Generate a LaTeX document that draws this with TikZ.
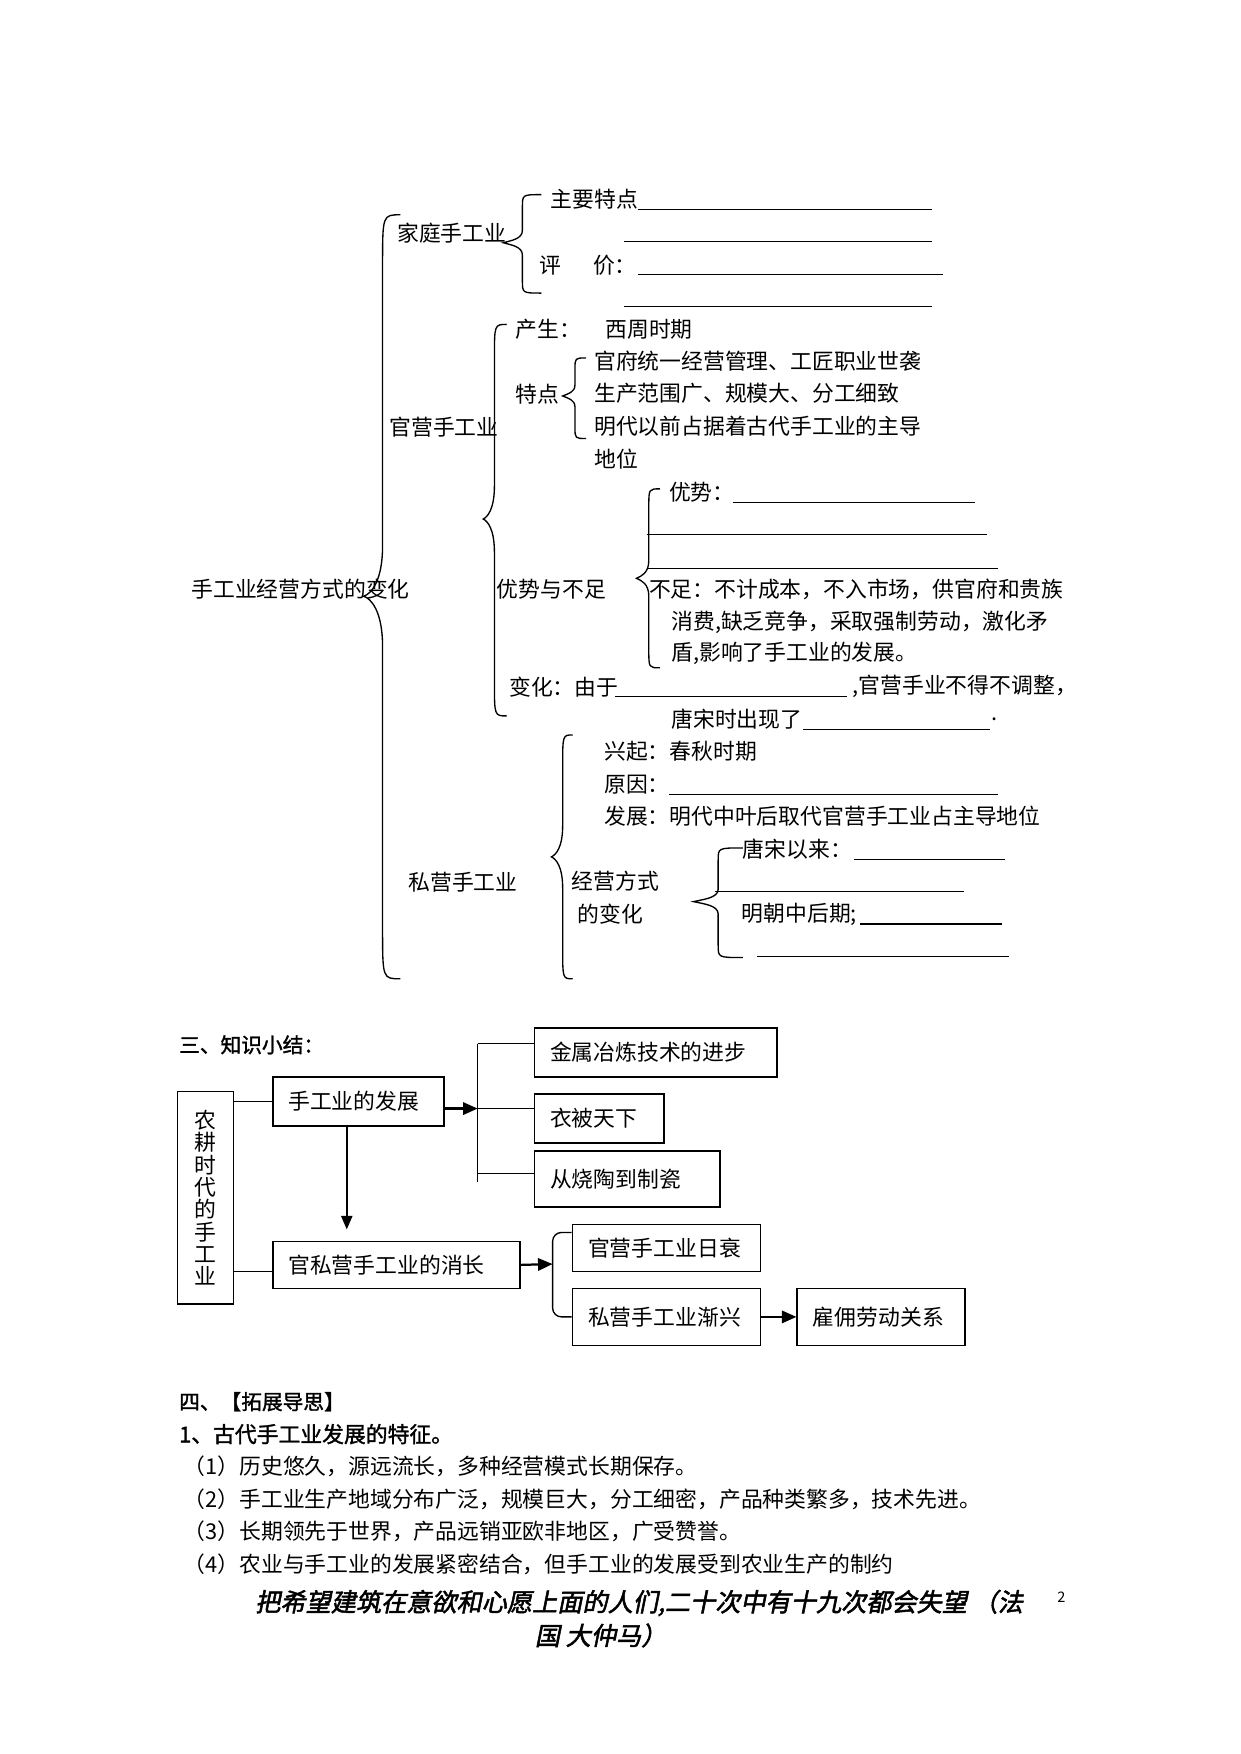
\documentclass[tikz,border=0pt]{standalone}
\usepackage{fontspec}
\setmainfont{Noto Sans CJK SC}
\newfontfamily\hbf{Noto Sans CJK SC}[FakeBold=1.5]
\newfontfamily\hbi{Noto Sans CJK SC}[FakeBold=2,FakeSlant=0.2]
\usetikzlibrary{arrows.meta}
\newcommand\fs{\fontsize{19.5pt}{20pt}\selectfont}
% #1 x of stem, #2 top y, #3 tip y, #4 bottom y, #5 tip x, #6 end x, #7 curl size
\newcommand\Brace[7]{%
  \draw[br] ({#6},{#2}) .. controls ({#1},{#2}) .. ({#1},{#2+#7}) -- ({#1},{#3-#7})
    .. controls ({#1},{#3-0.3*#7}) and ({#5+0.4*(#1-#5)},{#3-2}) .. ({#5},{#3})
    .. controls ({#5+0.4*(#1-#5)},{#3+2}) and ({#1},{#3+0.3*#7}) .. ({#1},{#3+#7})
    -- ({#1},{#4-#7}) .. controls ({#1},{#4}) .. ({#6},{#4});}
\tikzset{
  tx/.style={anchor=west, inner sep=0pt, font=\fs},
  br/.style={line width=1.2pt},
  blank/.style={line width=1pt},
  ln/.style={line width=1.2pt},
  arr/.style={line width=2pt, -{Triangle[length=13pt,width=11pt]}},
  box/.style={draw, line width=1.5pt, anchor=north west, inner xsep=14pt, inner ysep=0pt, align=left, font=\fs},
}
\begin{document}
\begin{tikzpicture}[x=1pt,y=-1pt]
\fill[white] (0,0) rectangle (1109,1568);
\useasboundingbox (0,0) rectangle (1109,1568);

% ---------- top concept tree ----------
\Brace{342}{192}{533}{875}{325}{358}{45}
\Brace{467}{174}{217}{262}{450}{484}{11}
\Brace{442}{290}{464}{640}{432}{453}{30}
\Brace{514}{320}{354}{392}{503}{524}{10}
\Brace{580}{437}{517}{597}{569}{590}{16}
\Brace{503}{657}{766}{875}{493}{512}{28}
\Brace{642}{758}{806}{856}{620}{664}{11}

\node[tx] (root) at (171,527) {手工业经营方式的变化};
\node[tx] (jt) at (355,208) {家庭手工业};
\node[tx] (zy) at (492,178) {主要特点};
\draw[blank] (570,187) -- (833,187);
\draw[blank] (558,216) -- (833,216);
\node[tx] (ping) at (482,237) {评};
\node[tx] (jia) at (530,237) {价：};
\draw[blank] (570,245) -- (843,245);
\draw[blank] (558,274) -- (833,274);

\node[tx] (gy) at (348,382) {官营手工业};
\node[tx] (cs) at (461,294) {产生：};
\node[tx] (xzq) at (541,294) {西周时期};
\node[tx] (td) at (461,352) {特点};
\node[tx] (t1) at (531,323) {官府统一经营管理、工匠职业世袭};
\node[tx] (t2) at (531,352) {生产范围广、规模大、分工细致};
\node[tx] (t3) at (531,381) {明代以前占据着古代手工业的主导};
\node[tx] (t4) at (531,410) {地位};
\node[tx] (ysbz) at (444,527) {优势与不足};
\node[tx] (ys) at (598,440) {优势：};
\draw[blank] (655,449) -- (872,449);
\draw[blank] (578,478) -- (882,478);
\draw[blank] (578,508) -- (892,508);
\node[tx] (bz1) at (580,527) {不足：不计成本，不入市场，供官府和贵族};
\node[tx] (bz2) at (600,556) {消费,缺乏竞争，采取强制劳动，激化矛};
\node[tx] (bz3) at (600,584) {盾,影响了手工业的发展。};
\node[tx] (bh) at (455,614) {变化：由于};
\draw[blank] (550,623) -- (757,623);
\node[tx] (bh2) at (762,614) {,官营手业不得不调整，};
\node[tx] (ts) at (600,643) {唐宋时出现了};
\draw[blank] (718,652) -- (885,652);
\node[tx] (dot) at (886,643) {.};

\node[tx] (sy) at (365,789) {私营手工业};
\node[tx] (xq) at (540,672) {兴起：春秋时期};
\node[tx] (yy) at (540,701) {原因：};
\draw[blank] (598,710) -- (892,710);
\node[tx] (fzt) at (540,730) {发展：明代中叶后取代官营手工业占主导地位};
\node[tx] (jy1) at (511,788) {经营方式};
\node[tx] (jy2) at (516,817) {的变化};
\node[tx] (tsyl) at (664,759) {唐宋以来：};
\draw[blank] (763,768) -- (898,768);
\draw[blank] (639,797) -- (862,797);
\node[tx] (mc) at (663,817) {明朝中后期;};
\draw[blank] (769,826) -- (896,826);
\draw[blank] (677,855) -- (902,855);

% ---------- section 3 ----------
\node[tx, font=\hbf\fontsize{18.5pt}{20pt}\selectfont] (h3) at (160,934) {三、知识小结：};

\node[draw, line width=1.5pt, anchor=north west, minimum width=50pt, minimum height=190pt, inner sep=0pt,
      align=center, font=\fontsize{19.5pt}{20pt}\selectfont] (nong) at (158,975)
      {农\\耕\\时\\代\\的\\手\\工\\业};
\node[box, text width=125pt, minimum height=44pt] (fz) at (243,962) {手工业的发展};
\node[box, text width=193pt, minimum height=42pt] (xz) at (243,1109) {官私营手工业的消长};
\node[box, text width=189pt, minimum height=44pt] (b1) at (477,918) {金属冶炼技术的进步};
\node[box, text width=88pt, minimum height=44pt] (b2) at (477,977) {衣被天下};
\node[box, text width=138pt, minimum height=50pt] (b3) at (477,1028) {从烧陶到制瓷};
\node[box, text width=140pt, minimum height=42pt] (g1) at (511,1094) {官营手工业日衰};
\node[box, text width=140pt, minimum height=51pt] (g2) at (511,1151) {私营手工业渐兴};
\node[box, text width=122pt, minimum height=51pt] (g3) at (712,1151) {雇佣劳动关系};

\coordinate (j) at (427,991);
\coordinate (jt0) at (427,933);
\coordinate (jb0) at (427,1057);
\coordinate (j3) at (427,1049);
\coordinate (d1) at (310,1006);
\coordinate (k) at (494,1130);

\draw[ln] (fz.west) -- (fz.west -| nong.east);
\draw[ln] ([yshift=-6pt]xz.west) -- ([yshift=-6pt]xz.west -| nong.east);
\draw[arr] (fz.east |- j) -- (j);
\draw[ln] (jt0) -- (jb0);
\draw[ln] (jt0) -- (b1.west |- jt0);
\draw[ln] (j) -- (b2.west |- j);
\draw[ln] (j3) -- (b3.west |- j3);
\draw[line width=1.4pt, -{Triangle[length=12pt,width=10pt]}, shorten >=10pt] (d1) -- (xz.north -| d1);
\draw[arr] (xz.east) -- (k);
\draw[ln, rounded corners=8pt] ([yshift=14pt]g1.west) -| (k) |- (g2.west);
\draw[arr] (g2.east) -- (g3.west);

% ---------- section 4 ----------
\node[tx, font=\hbf\fontsize{18.5pt}{20pt}\selectfont] (h4) at (160,1253) {四、【拓展导思】};
\node[tx, font=\hbf\fontsize{19.5pt}{20pt}\selectfont] (h41) at (160,1282) {1、古代手工业发展的特征。};
\node[tx] (l1) at (164,1311) {（1）历史悠久，源远流长，多种经营模式长期保存。};
\node[tx] (l2) at (164,1340) {（2）手工业生产地域分布广泛，规模巨大，分工细密，产品种类繁多，技术先进。};
\node[tx] (l3) at (164,1369) {（3）长期领先于世界，产品远销亚欧非地区，广受赞誉。};
\node[tx] (l4) at (164,1398) {（4）农业与手工业的发展紧密结合，但手工业的发展受到农业生产的制约};

\node[tx, font=\hbi\fontsize{22.5pt}{24pt}\selectfont] (q1) at (228,1433) {把希望建筑在意欲和心愿上面的人们,二十次中有十九次都会失望 （法};
\node[tx, font=\hbi\fontsize{22.5pt}{24pt}\selectfont] (q2) at (478,1462) {国 大仲马）};
\node[tx, font=\fontsize{13pt}{14pt}\selectfont] (pg) at (945,1428) {2};
\end{tikzpicture}
\end{document}
